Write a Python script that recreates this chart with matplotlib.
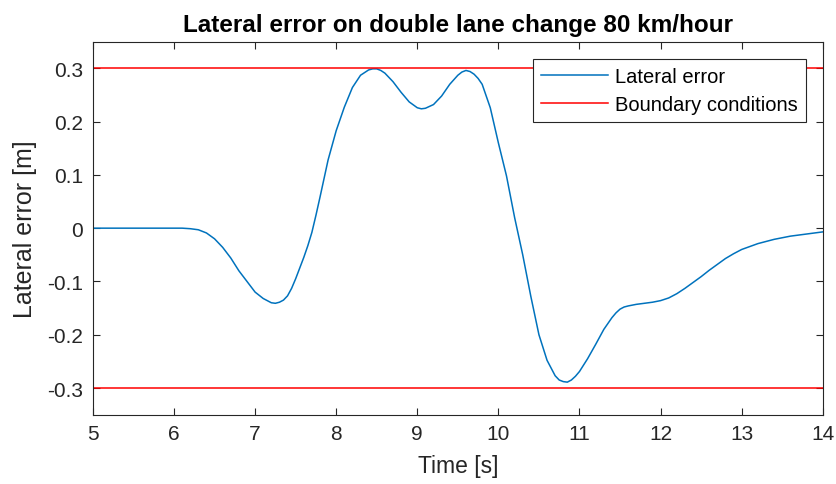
import numpy as np
import matplotlib
matplotlib.use('Agg')
from matplotlib import pyplot as plt

# values
time_s = [5.0, 5.5, 6.0, 6.1, 6.2, 6.3, 6.4, 6.5, 6.6, 6.7, 6.8, 6.9,
          7.0, 7.1, 7.2, 7.25, 7.3, 7.35, 7.4, 7.45, 7.5, 7.6, 7.65, 7.7, 7.75, 7.8, 7.9,
          8.0, 8.1, 8.2, 8.3, 8.4, 8.45, 8.5, 8.55, 8.6, 8.7, 8.8, 8.9,
          9.0, 9.05, 9.1, 9.2, 9.3, 9.4, 9.5, 9.55, 9.6, 9.65, 9.7, 9.75, 9.8, 9.9,
          10.0, 10.1, 10.2, 10.3, 10.4, 10.5, 10.6, 10.7, 10.75, 10.8, 10.85, 10.9, 10.95,
          11.0, 11.1, 11.2, 11.3, 11.4, 11.45, 11.5, 11.55, 11.6, 11.7, 11.8, 11.9,
          12.0, 12.1, 12.2, 12.3, 12.4, 12.5, 12.6, 12.7, 12.8, 12.9,
          13.0, 13.2, 13.4, 13.6, 13.8, 14.0]
lateral_err = [0.0, 0.0, 0.0, 0.0, -0.001, -0.003, -0.009, -0.020, -0.036, -0.056, -0.080, -0.100,
               -0.120, -0.132, -0.140, -0.141, -0.139, -0.135, -0.127, -0.113, -0.095, -0.055, -0.033, -0.008, 0.024, 0.058, 0.128,
               0.183, 0.227, 0.264, 0.287, 0.297, 0.299, 0.299, 0.296, 0.291, 0.275, 0.255, 0.237,
               0.226, 0.224, 0.225, 0.232, 0.248, 0.270, 0.287, 0.293, 0.296, 0.294, 0.289, 0.281, 0.270, 0.226,
               0.160, 0.098, 0.020, -0.050, -0.128, -0.200, -0.248, -0.277, -0.285, -0.288, -0.289, -0.285, -0.278,
               -0.269, -0.245, -0.218, -0.190, -0.168, -0.159, -0.152, -0.148, -0.146, -0.143, -0.141, -0.139,
               -0.136, -0.131, -0.123, -0.113, -0.102, -0.091, -0.079, -0.068, -0.057, -0.048,
               -0.040, -0.029, -0.021, -0.015, -0.011, -0.007]
bound_upper = 0.3
bound_lower = -0.3

plt.rcParams['font.family'] = ['Liberation Sans', 'DejaVu Sans']
axis_col = '#262626'

fig = plt.figure(figsize=(8.37, 4.85), dpi=100)
ax = fig.add_axes([0.111, 0.143, 0.872, 0.769])

ax.plot(time_s, lateral_err, color='#0072BD', linewidth=1.1, label='Lateral error')
ax.plot([5, 14], [bound_upper, bound_upper], color='#FF0000', linewidth=1.1, label='Boundary conditions')
ax.plot([5, 14], [bound_lower, bound_lower], color='#FF0000', linewidth=1.1)

ax.set_xlim(5, 14)
ax.set_ylim(-0.35, 0.35)
ax.set_xticks(np.arange(5, 15, 1))
ax.set_yticks([-0.3, -0.2, -0.1, 0, 0.1, 0.2, 0.3])
ax.set_yticklabels(['-0.3', '-0.2', '-0.1', '0', '0.1', '0.2', '0.3'])

ax.tick_params(direction='in', top=True, right=True, length=5, width=0.8,
               colors=axis_col, labelsize=15, pad=7)
for sp in ax.spines.values():
    sp.set_color(axis_col)
    sp.set_linewidth(0.8)

ax.set_xlabel('Time [s]', fontsize=16.5, color=axis_col, labelpad=8)
ax.set_ylabel('Lateral error [m]', fontsize=18, color=axis_col, labelpad=7)
ax.set_title('Lateral error on double lane change 80 km/hour', fontsize=17.5,
             fontweight='bold', color='black', pad=8)

leg = ax.legend(loc='upper right', fontsize=14.5, fancybox=False, framealpha=1,
                edgecolor=axis_col, handlelength=3.3, borderaxespad=0.85,
                labelspacing=0.45, handletextpad=0.35, borderpad=0.4)
leg.get_frame().set_linewidth(0.8)
for t in leg.get_texts():
    t.set_color('black')

fig.savefig('out.png', dpi=100)
